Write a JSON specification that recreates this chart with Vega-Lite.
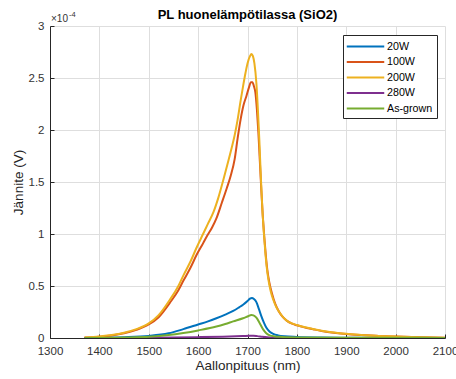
{
  "$schema": "https://vega.github.io/schema/vega-lite/v6.json",
  "width": 395,
  "height": 312,
  "autosize": {"type": "none"},
  "padding": {"left": 50, "top": 26, "right": 11, "bottom": 41},
  "background": "white",
  "config": {
    "font": "Liberation Sans",
    "view": {"stroke": null},
    "axis": {
      "gridColor": "#dedede",
      "gridWidth": 1,
      "domainColor": "#262626",
      "domainWidth": 1,
      "tickColor": "#262626",
      "tickSize": -4,
      "labelColor": "#333333",
      "labelFontSize": 11.5,
      "labelFont": "Liberation Sans",
      "labelFlush": false,
      "titleFont": "Liberation Sans",
      "titleFontSize": 13.5,
      "titleFontWeight": "normal",
      "titleColor": "#262626"
    },
    "legend": {
      "labelFont": "Liberation Sans",
      "labelFontSize": 10.7,
      "labelColor": "#000000"
    }
  },
  "layer": [
    {
      "data": {
        "values": [
          {"s": "20W", "nm": 1370, "v": 0.001}, {"s": "20W", "nm": 1400, "v": 0.003}, {"s": "20W", "nm": 1450, "v": 0.008}, {"s": "20W", "nm": 1500, "v": 0.02}, {"s": "20W", "nm": 1540, "v": 0.045}, {"s": "20W", "nm": 1570, "v": 0.085}, {"s": "20W", "nm": 1600, "v": 0.13}, {"s": "20W", "nm": 1620, "v": 0.16}, {"s": "20W", "nm": 1637, "v": 0.19}, {"s": "20W", "nm": 1655, "v": 0.225}, {"s": "20W", "nm": 1671, "v": 0.26}, {"s": "20W", "nm": 1683, "v": 0.295}, {"s": "20W", "nm": 1691, "v": 0.32}, {"s": "20W", "nm": 1700, "v": 0.355}, {"s": "20W", "nm": 1705, "v": 0.378}, {"s": "20W", "nm": 1709, "v": 0.385}, {"s": "20W", "nm": 1713, "v": 0.375}, {"s": "20W", "nm": 1718, "v": 0.345}, {"s": "20W", "nm": 1723, "v": 0.28}, {"s": "20W", "nm": 1728, "v": 0.21}, {"s": "20W", "nm": 1733, "v": 0.15}, {"s": "20W", "nm": 1738, "v": 0.1}, {"s": "20W", "nm": 1745, "v": 0.06}, {"s": "20W", "nm": 1752, "v": 0.04}, {"s": "20W", "nm": 1762, "v": 0.025}, {"s": "20W", "nm": 1775, "v": 0.016}, {"s": "20W", "nm": 1800, "v": 0.01}, {"s": "20W", "nm": 1850, "v": 0.005}, {"s": "20W", "nm": 1900, "v": 0.003}, {"s": "20W", "nm": 2000, "v": 0.001}, {"s": "20W", "nm": 2100, "v": 0.0},

          {"s": "100W", "nm": 1370, "v": 0.004}, {"s": "100W", "nm": 1400, "v": 0.013}, {"s": "100W", "nm": 1425, "v": 0.025}, {"s": "100W", "nm": 1450, "v": 0.045}, {"s": "100W", "nm": 1475, "v": 0.078}, {"s": "100W", "nm": 1500, "v": 0.13}, {"s": "100W", "nm": 1520, "v": 0.2}, {"s": "100W", "nm": 1543, "v": 0.34}, {"s": "100W", "nm": 1560, "v": 0.46}, {"s": "100W", "nm": 1570, "v": 0.55}, {"s": "100W", "nm": 1585, "v": 0.68}, {"s": "100W", "nm": 1597, "v": 0.8}, {"s": "100W", "nm": 1610, "v": 0.91}, {"s": "100W", "nm": 1618, "v": 0.98}, {"s": "100W", "nm": 1628, "v": 1.06}, {"s": "100W", "nm": 1637, "v": 1.15}, {"s": "100W", "nm": 1648, "v": 1.3}, {"s": "100W", "nm": 1658, "v": 1.44}, {"s": "100W", "nm": 1666, "v": 1.56}, {"s": "100W", "nm": 1674, "v": 1.72}, {"s": "100W", "nm": 1680, "v": 1.92}, {"s": "100W", "nm": 1686, "v": 2.1}, {"s": "100W", "nm": 1692, "v": 2.24}, {"s": "100W", "nm": 1698, "v": 2.33}, {"s": "100W", "nm": 1703, "v": 2.41}, {"s": "100W", "nm": 1707, "v": 2.46}, {"s": "100W", "nm": 1710, "v": 2.46}, {"s": "100W", "nm": 1713, "v": 2.42}, {"s": "100W", "nm": 1716, "v": 2.36}, {"s": "100W", "nm": 1719, "v": 2.2}, {"s": "100W", "nm": 1722, "v": 1.98}, {"s": "100W", "nm": 1725, "v": 1.7}, {"s": "100W", "nm": 1728, "v": 1.42}, {"s": "100W", "nm": 1731, "v": 1.17}, {"s": "100W", "nm": 1734, "v": 0.97}, {"s": "100W", "nm": 1737, "v": 0.8}, {"s": "100W", "nm": 1740, "v": 0.66}, {"s": "100W", "nm": 1744, "v": 0.54}, {"s": "100W", "nm": 1750, "v": 0.42}, {"s": "100W", "nm": 1756, "v": 0.33}, {"s": "100W", "nm": 1763, "v": 0.26}, {"s": "100W", "nm": 1770, "v": 0.21}, {"s": "100W", "nm": 1780, "v": 0.165}, {"s": "100W", "nm": 1790, "v": 0.138}, {"s": "100W", "nm": 1800, "v": 0.122}, {"s": "100W", "nm": 1815, "v": 0.102}, {"s": "100W", "nm": 1833, "v": 0.084}, {"s": "100W", "nm": 1850, "v": 0.068}, {"s": "100W", "nm": 1870, "v": 0.054}, {"s": "100W", "nm": 1900, "v": 0.039}, {"s": "100W", "nm": 1930, "v": 0.029}, {"s": "100W", "nm": 1960, "v": 0.021}, {"s": "100W", "nm": 2000, "v": 0.014}, {"s": "100W", "nm": 2050, "v": 0.007}, {"s": "100W", "nm": 2100, "v": 0.003},

          {"s": "200W", "nm": 1370, "v": 0.004}, {"s": "200W", "nm": 1400, "v": 0.015}, {"s": "200W", "nm": 1425, "v": 0.028}, {"s": "200W", "nm": 1450, "v": 0.05}, {"s": "200W", "nm": 1475, "v": 0.085}, {"s": "200W", "nm": 1500, "v": 0.14}, {"s": "200W", "nm": 1520, "v": 0.22}, {"s": "200W", "nm": 1543, "v": 0.37}, {"s": "200W", "nm": 1560, "v": 0.5}, {"s": "200W", "nm": 1570, "v": 0.6}, {"s": "200W", "nm": 1585, "v": 0.74}, {"s": "200W", "nm": 1597, "v": 0.87}, {"s": "200W", "nm": 1610, "v": 1.0}, {"s": "200W", "nm": 1620, "v": 1.1}, {"s": "200W", "nm": 1631, "v": 1.21}, {"s": "200W", "nm": 1641, "v": 1.35}, {"s": "200W", "nm": 1651, "v": 1.52}, {"s": "200W", "nm": 1661, "v": 1.7}, {"s": "200W", "nm": 1668, "v": 1.83}, {"s": "200W", "nm": 1674, "v": 1.95}, {"s": "200W", "nm": 1680, "v": 2.1}, {"s": "200W", "nm": 1686, "v": 2.28}, {"s": "200W", "nm": 1691, "v": 2.42}, {"s": "200W", "nm": 1696, "v": 2.55}, {"s": "200W", "nm": 1700, "v": 2.64}, {"s": "200W", "nm": 1705, "v": 2.71}, {"s": "200W", "nm": 1708, "v": 2.73}, {"s": "200W", "nm": 1711, "v": 2.71}, {"s": "200W", "nm": 1714, "v": 2.64}, {"s": "200W", "nm": 1718, "v": 2.45}, {"s": "200W", "nm": 1721, "v": 2.2}, {"s": "200W", "nm": 1724, "v": 1.9}, {"s": "200W", "nm": 1727, "v": 1.55}, {"s": "200W", "nm": 1730, "v": 1.25}, {"s": "200W", "nm": 1733, "v": 1.02}, {"s": "200W", "nm": 1736, "v": 0.83}, {"s": "200W", "nm": 1739, "v": 0.68}, {"s": "200W", "nm": 1742, "v": 0.57}, {"s": "200W", "nm": 1747, "v": 0.45}, {"s": "200W", "nm": 1752, "v": 0.37}, {"s": "200W", "nm": 1758, "v": 0.3}, {"s": "200W", "nm": 1765, "v": 0.245}, {"s": "200W", "nm": 1772, "v": 0.2}, {"s": "200W", "nm": 1780, "v": 0.165}, {"s": "200W", "nm": 1790, "v": 0.14}, {"s": "200W", "nm": 1800, "v": 0.125}, {"s": "200W", "nm": 1815, "v": 0.105}, {"s": "200W", "nm": 1833, "v": 0.086}, {"s": "200W", "nm": 1850, "v": 0.07}, {"s": "200W", "nm": 1870, "v": 0.055}, {"s": "200W", "nm": 1900, "v": 0.04}, {"s": "200W", "nm": 1930, "v": 0.03}, {"s": "200W", "nm": 1960, "v": 0.022}, {"s": "200W", "nm": 2000, "v": 0.015}, {"s": "200W", "nm": 2050, "v": 0.008}, {"s": "200W", "nm": 2100, "v": 0.003},

          {"s": "280W", "nm": 1370, "v": 0.0}, {"s": "280W", "nm": 1450, "v": 0.001}, {"s": "280W", "nm": 1500, "v": 0.002}, {"s": "280W", "nm": 1550, "v": 0.004}, {"s": "280W", "nm": 1600, "v": 0.008}, {"s": "280W", "nm": 1650, "v": 0.013}, {"s": "280W", "nm": 1690, "v": 0.019}, {"s": "280W", "nm": 1705, "v": 0.022}, {"s": "280W", "nm": 1712, "v": 0.022}, {"s": "280W", "nm": 1720, "v": 0.018}, {"s": "280W", "nm": 1730, "v": 0.012}, {"s": "280W", "nm": 1740, "v": 0.007}, {"s": "280W", "nm": 1750, "v": 0.004}, {"s": "280W", "nm": 1770, "v": 0.002}, {"s": "280W", "nm": 1800, "v": 0.001}, {"s": "280W", "nm": 1900, "v": 0.001}, {"s": "280W", "nm": 2100, "v": 0.0},

          {"s": "As-grown", "nm": 1370, "v": 0.001}, {"s": "As-grown", "nm": 1450, "v": 0.005}, {"s": "As-grown", "nm": 1500, "v": 0.012}, {"s": "As-grown", "nm": 1540, "v": 0.028}, {"s": "As-grown", "nm": 1570, "v": 0.048}, {"s": "As-grown", "nm": 1600, "v": 0.073}, {"s": "As-grown", "nm": 1637, "v": 0.11}, {"s": "As-grown", "nm": 1655, "v": 0.135}, {"s": "As-grown", "nm": 1671, "v": 0.16}, {"s": "As-grown", "nm": 1691, "v": 0.19}, {"s": "As-grown", "nm": 1700, "v": 0.207}, {"s": "As-grown", "nm": 1708, "v": 0.222}, {"s": "As-grown", "nm": 1712, "v": 0.218}, {"s": "As-grown", "nm": 1718, "v": 0.195}, {"s": "As-grown", "nm": 1725, "v": 0.14}, {"s": "As-grown", "nm": 1732, "v": 0.08}, {"s": "As-grown", "nm": 1738, "v": 0.045}, {"s": "As-grown", "nm": 1745, "v": 0.025}, {"s": "As-grown", "nm": 1755, "v": 0.015}, {"s": "As-grown", "nm": 1770, "v": 0.01}, {"s": "As-grown", "nm": 1800, "v": 0.006}, {"s": "As-grown", "nm": 1900, "v": 0.003}, {"s": "As-grown", "nm": 2000, "v": 0.002}, {"s": "As-grown", "nm": 2100, "v": 0.001}
        ]
      },
      "mark": {"type": "line", "strokeWidth": 2, "interpolate": "monotone", "clip": true},
      "encoding": {
        "x": {
          "field": "nm", "type": "quantitative",
          "scale": {"domain": [1300, 2100], "nice": false, "zero": false},
          "axis": {"values": [1300, 1400, 1500, 1600, 1700, 1800, 1900, 2000, 2100], "format": "d", "title": "Aallonpituus (nm)", "labelPadding": 11, "titlePadding": 2, "labelFlush": false}
        },
        "y": {
          "field": "v", "type": "quantitative",
          "scale": {"domain": [0, 3], "nice": false},
          "axis": {"values": [0, 0.5, 1, 1.5, 2, 2.5, 3], "format": "~g", "title": "Jännite (V)", "labelPadding": 10, "titlePadding": 3, "labelFlush": false}
        },
        "color": {
          "field": "s", "type": "nominal",
          "scale": {"domain": ["20W", "100W", "200W", "280W", "As-grown"], "range": ["#0072BD", "#D95319", "#EDB120", "#7E2F8E", "#77AC30"]},
          "legend": {
            "title": null,
            "orient": "none",
            "legendX": 293,
            "legendY": 9,
            "symbolType": "M-3,0H3",
            "symbolSize": 156,
            "symbolStrokeWidth": 2,
            "symbolOffset": 11,
            "strokeColor": "#262626",
            "fillColor": "white",
            "padding": 4,
            "labelOffset": 14,
            "rowPadding": 2.5
          }
        }
      }
    },
    {
      "data": {"values": [{"t": "PL huonelämpötilassa (SiO2)"}]},
      "mark": {"type": "text", "align": "center", "baseline": "alphabetic", "dy": -7.5, "fontSize": 13, "fontWeight": "bold", "color": "#000000", "font": "Liberation Sans"},
      "encoding": {
        "x": {"datum": 1700, "type": "quantitative"},
        "y": {"datum": 3, "type": "quantitative"},
        "text": {"field": "t"}
      }
    },
    {
      "data": {"values": [{"t": "×10"}]},
      "mark": {"type": "text", "align": "left", "baseline": "alphabetic", "dy": -4, "dx": 1, "fontSize": 10, "color": "#333333", "font": "Liberation Sans"},
      "encoding": {
        "x": {"datum": 1300, "type": "quantitative"},
        "y": {"datum": 3, "type": "quantitative"},
        "text": {"field": "t"}
      }
    },
    {
      "data": {"values": [{"t": "-4"}]},
      "mark": {"type": "text", "align": "left", "baseline": "alphabetic", "dy": -9, "dx": 19, "fontSize": 7.5, "color": "#333333", "font": "Liberation Sans"},
      "encoding": {
        "x": {"datum": 1300, "type": "quantitative"},
        "y": {"datum": 3, "type": "quantitative"},
        "text": {"field": "t"}
      }
    }
  ]
}
